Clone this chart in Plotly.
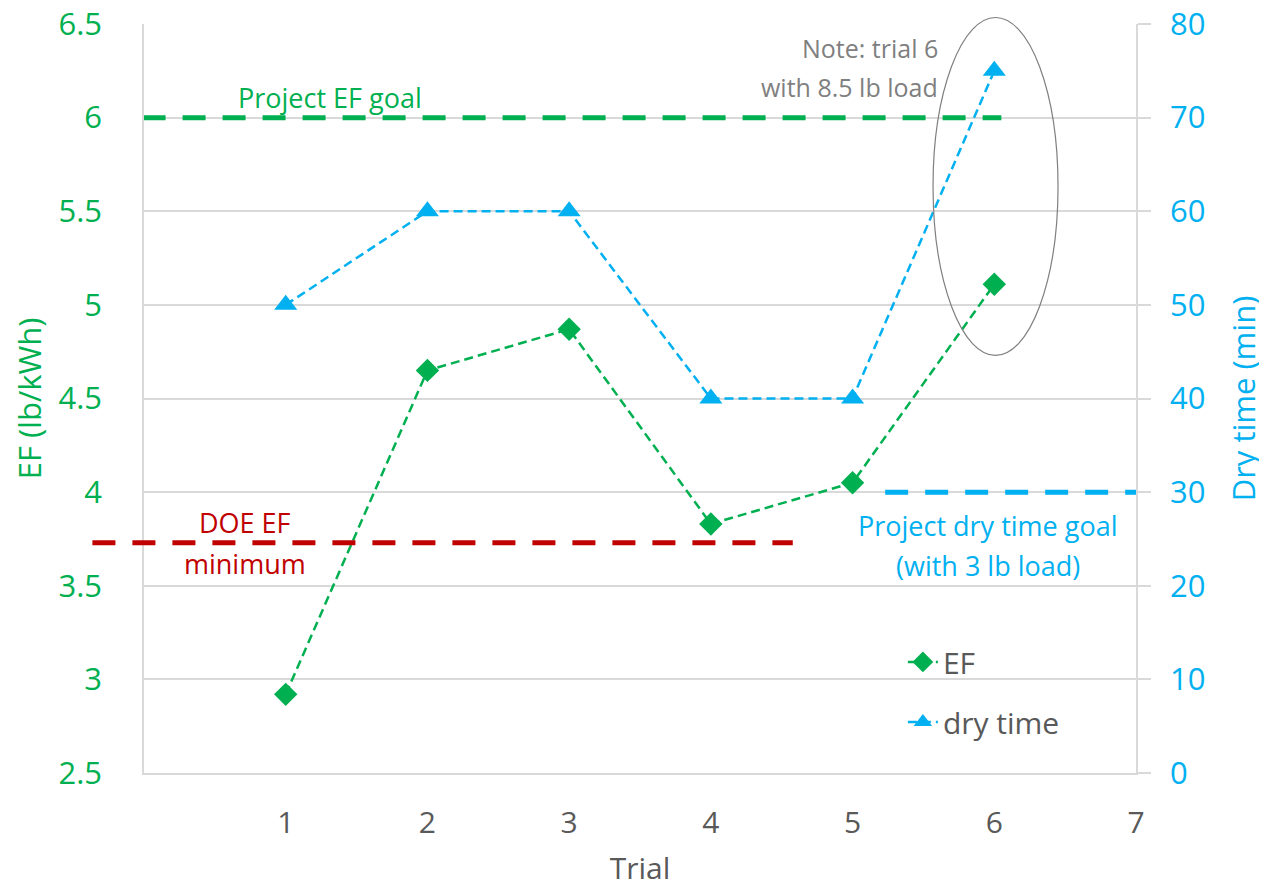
import plotly.graph_objects as go

# ---- data ----
trials = [1, 2, 3, 4, 5, 6]
ef_values = [2.92, 4.65, 4.87, 3.83, 4.05, 5.11]
dry_time_values = [50, 60, 60, 40, 40, 75]
x_ticks = [1, 2, 3, 4, 5, 6, 7]
ef_ticks = [2.5, 3, 3.5, 4, 4.5, 5, 5.5, 6, 6.5]
dry_ticks = [0, 10, 20, 30, 40, 50, 60, 70, 80]
EF_GOAL = 6.0
DOE_EF_MIN = 3.73
DRY_TIME_GOAL = 30

GREEN = "#00B050"
BLUE = "#00B0F0"
RED = "#C00000"
GRID = "#D9D9D9"
DARK = "#595959"
FONT = "Open Sans"

fig = go.Figure()

fig.add_trace(go.Scatter(
    x=trials, y=ef_values, name="EF", mode="lines+markers",
    line=dict(color=GREEN, width=2.5, dash="9px,5px"),
    marker=dict(symbol="diamond", size=18, color=GREEN),
    legendgroup="ef", yaxis="y"))

fig.add_trace(go.Scatter(
    x=trials, y=dry_time_values, name="dry time", mode="lines+markers",
    line=dict(color=BLUE, width=2.5, dash="9px,5px"),
    marker=dict(symbol="triangle-up", size=20, color=BLUE),
    legendgroup="dry", yaxis="y2"))

# goal / minimum reference lines
fig.add_shape(type="line", xref="x", yref="y", x0=-0.01, x1=6.05,
              y0=EF_GOAL, y1=EF_GOAL,
              line=dict(color=GREEN, width=5, dash="23px,17px"))
fig.add_shape(type="line", xref="paper", yref="y", x0=-0.052, x1=0.654,
              y0=DOE_EF_MIN, y1=DOE_EF_MIN,
              line=dict(color=RED, width=5, dash="23px,17px"))
fig.add_shape(type="line", xref="x", yref="y2", x0=5.23, x1=7.08,
              y0=DRY_TIME_GOAL, y1=DRY_TIME_GOAL,
              line=dict(color=BLUE, width=5, dash="23px,17px"))

# ellipse around trial 6
fig.add_shape(type="circle", xref="paper", yref="paper",
              x0=0.7954, x1=0.9214, y0=0.5575, y1=1.0087,
              line=dict(color="#7F7F7F", width=1.2))

ann_font = dict(family=FONT, size=27)
fig.add_annotation(x=1.31, y=6.11, xref="x", yref="y", text="Project EF goal",
                   showarrow=False, font=dict(ann_font, color=GREEN))
fig.add_annotation(x=0.71, y=3.84, xref="x", yref="y", text="DOE EF",
                   showarrow=False, font=dict(ann_font, color=RED))
fig.add_annotation(x=0.71, y=3.62, xref="x", yref="y", text="minimum",
                   showarrow=False, font=dict(ann_font, color=RED))
fig.add_annotation(x=5.955, y=26.45, xref="x", yref="y2", text="Project dry time goal",
                   showarrow=False, font=dict(ann_font, color=BLUE))
fig.add_annotation(x=5.955, y=22.18, xref="x", yref="y2", text="(with 3 lb load)",
                   showarrow=False, font=dict(ann_font, color=BLUE))
fig.add_annotation(x=5.617, y=0.9927, xref="x", yref="paper", text="Note: trial 6",
                   xanchor="right", showarrow=False,
                   font=dict(family=FONT, size=25, color="#7F7F7F"))
fig.add_annotation(x=5.617, y=0.9406, xref="x", yref="paper", text="with 8.5 lb load",
                   xanchor="right", showarrow=False,
                   font=dict(family=FONT, size=25, color="#7F7F7F"))

fig.update_layout(
    width=1259, height=880,
    margin=dict(l=136, r=131, t=16, b=115),
    paper_bgcolor="white", plot_bgcolor="white",
    font=dict(family=FONT, size=30, color=DARK),
    showlegend=True,
    legend=dict(x=0.765, y=0.183, xanchor="left", yanchor="top",
                bgcolor="rgba(0,0,0,0)", font=dict(family=FONT, size=30, color=DARK),
                tracegroupgap=18, itemwidth=30),
    xaxis=dict(range=[0, 7], tickvals=x_ticks, showgrid=False, zeroline=False,
               automargin=False, ticklabeloverflow="allow",
               showline=True, linecolor=GRID, linewidth=1.5, ticks="",
               tickfont=dict(family=FONT, size=30, color=DARK),
               ticklabelstandoff=22,
               title=dict(text="Trial", font=dict(family=FONT, size=30, color=DARK),
                          standoff=17)),
    yaxis=dict(range=[2.5, 6.5], tickvals=ef_ticks, ticktext=[f"{v:g}" for v in ef_ticks],
               automargin=False, ticklabeloverflow="allow",
               showgrid=True, gridcolor=GRID, gridwidth=1.5, zeroline=False,
               showline=True, linecolor=GRID, linewidth=1.5, ticks="",
               tickfont=dict(family=FONT, size=31, color=GREEN),
               ticklabelstandoff=34,
               title=dict(text="EF (lb/kWh)", font=dict(family=FONT, size=31, color=GREEN),
                          standoff=9)),
    yaxis2=dict(range=[0, 80], tickvals=dry_ticks, overlaying="y", side="right",
                automargin=False, ticklabeloverflow="allow",
                showgrid=False, zeroline=False,
                showline=True, linecolor=GRID, linewidth=1.5,
                ticks="outside", ticklen=13, tickcolor=GRID, tickwidth=1.5,
                tickfont=dict(family=FONT, size=31, color=BLUE),
                ticklabelstandoff=13,
                title=dict(text="Dry time (min)", font=dict(family=FONT, size=31, color=BLUE),
                           standoff=29)),
)

fig.write_html("out.html")
